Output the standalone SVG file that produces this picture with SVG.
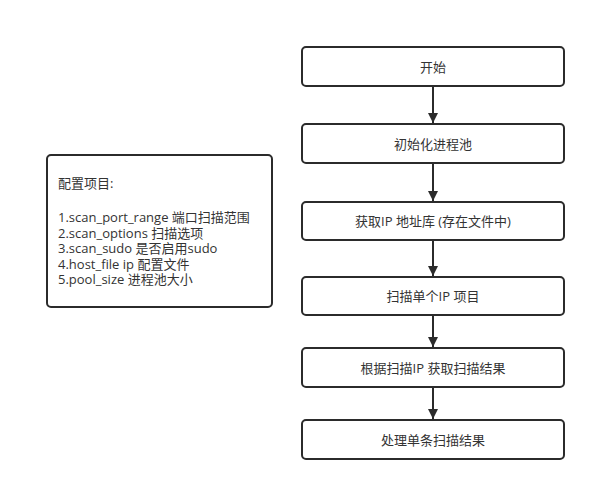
<svg xmlns="http://www.w3.org/2000/svg" width="596" height="491" viewBox="0 0 596 491">
  <defs>
    <style>
      .box { fill: #ffffff; stroke: #2b2b2b; stroke-width: 2; }
      .t { font-family: "Open Sans", "Noto Sans CJK SC", sans-serif; font-size: 13px; fill: #333333; dominant-baseline: central; }
      .c { text-anchor: middle; }
      .edge { stroke: #2b2b2b; stroke-width: 2; fill: none; marker-end: url(#arrow); }
    </style>
    <marker id="arrow" markerWidth="10" markerHeight="12" refX="10" refY="5" orient="auto" markerUnits="userSpaceOnUse" viewBox="0 0 10 10">
      <path d="M0,0 L10,5 L0,10 Z" fill="#2b2b2b"/>
    </marker>
  </defs>
  <rect width="596" height="491" fill="#ffffff"/>

  <g id="config">
    <rect class="box" x="47" y="155" width="225" height="152" rx="4"/>
    <text class="t" x="58" y="183">配置项目:</text>
    <text class="t" x="58" y="217">1.scan_port_range 端口扫描范围</text>
    <text class="t" x="58" y="232.5">2.scan_options 扫描选项</text>
    <text class="t" x="58" y="248">3.scan_sudo 是否启用sudo</text>
    <text class="t" x="58" y="263.5">4.host_file ip 配置文件</text>
    <text class="t" x="58" y="279">5.pool_size 进程池大小</text>
  </g>

  <g id="n1">
    <rect class="box" x="302" y="47" width="262" height="39" rx="4"/>
    <text class="t c" x="433" y="67">开始</text>
  </g>
  <g id="n2">
    <rect class="box" x="302" y="124" width="262" height="39" rx="4"/>
    <text class="t c" x="433" y="144">初始化进程池</text>
  </g>
  <g id="n3">
    <rect class="box" x="302" y="202" width="262" height="38" rx="4"/>
    <text class="t c" x="433" y="221">获取IP 地址库 (存在文件中)</text>
  </g>
  <g id="n4">
    <rect class="box" x="302" y="277" width="262" height="38" rx="4"/>
    <text class="t c" x="433" y="296">扫描单个IP 项目</text>
  </g>
  <g id="n5">
    <rect class="box" x="302" y="348" width="262" height="39" rx="4"/>
    <text class="t c" x="433" y="368">根据扫描IP 获取扫描结果</text>
  </g>
  <g id="n6">
    <rect class="box" x="302" y="420" width="262" height="39" rx="4"/>
    <text class="t c" x="433" y="440">处理单条扫描结果</text>
  </g>

  <g id="connectors">
    <line class="edge" x1="433" y1="86" x2="433" y2="123"/>
    <line class="edge" x1="433" y1="163" x2="433" y2="201"/>
    <line class="edge" x1="433" y1="240" x2="433" y2="276"/>
    <line class="edge" x1="433" y1="315" x2="433" y2="347"/>
    <line class="edge" x1="433" y1="387" x2="433" y2="419"/>
  </g>
</svg>
